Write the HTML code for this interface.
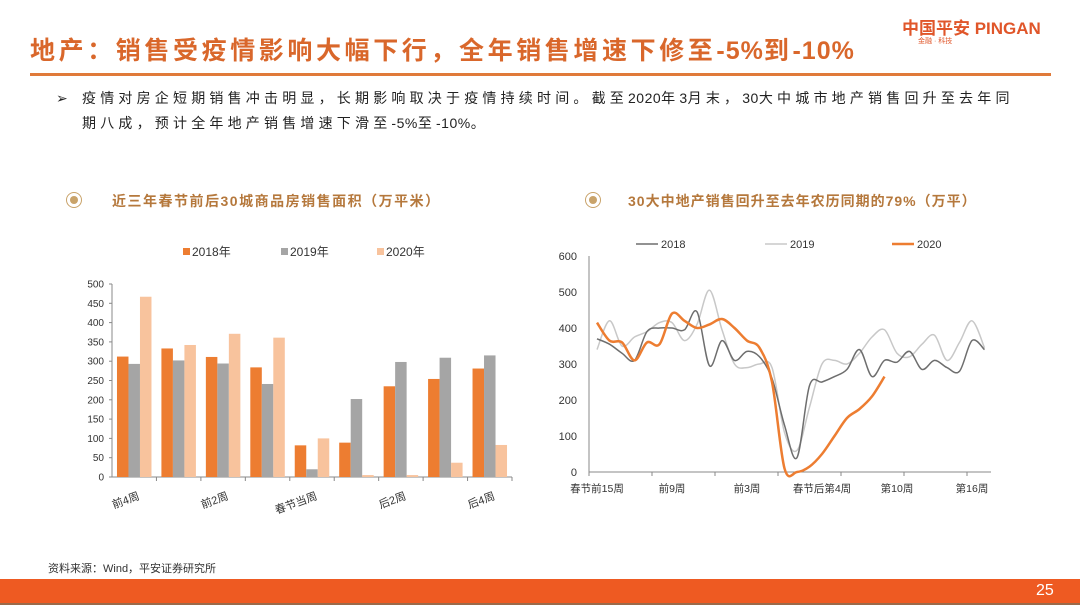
<!DOCTYPE html>
<html><head><meta charset="utf-8">
<style>
body{margin:0;width:1080px;height:608px;background:#fff;overflow:hidden;position:relative;font-family:"Liberation Sans","Noto Sans CJK SC",sans-serif;}
.abs{position:absolute;white-space:nowrap;}
.d{letter-spacing:0.5px}
</style></head>
<body>
<div class="abs" style="left:902px;top:14px;font-size:17px;font-weight:bold;color:#e0562a;letter-spacing:0px">中国平安 PINGAN</div>
<div class="abs" style="left:918px;top:36px;font-size:7px;color:#e0562a">金融 · 科技</div>
<div class="abs" style="left:30px;top:31px;font-size:25px;font-weight:bold;color:#d9672b;letter-spacing:3.6px;font-family:'Liberation Sans','Noto Sans CJK SC',sans-serif">地产：销售受疫情影响大幅下行，全年销售增速下修至<span style="letter-spacing:1px">-5%</span>到<span style="letter-spacing:1px">-10%</span></div>
<div class="abs" style="left:30px;top:73px;width:1021px;height:3px;background:#e07a3a"></div>
<div class="abs" style="left:56px;top:86px;font-size:14px;color:#222;line-height:25px;white-space:normal;width:1010px;letter-spacing:4.2px">
<span style="position:absolute;left:0;top:0">➢</span><div style="padding-left:26px;white-space:nowrap">疫情对房企短期销售冲击明显，长期影响取决于疫情持续时间。截至<span class="d">2020</span>年<span class="d">3</span>月末，<span class="d">30</span>大中城市地产销售回升至去年同<br>期八成，预计全年地产销售增速下滑至<span class="d">-5%</span>至<span class="d">-10%</span>。</div></div>

<div class="abs" style="left:66px;top:192px;width:14px;height:14px;border:1.5px solid #c9a36a;border-radius:50%"><div style="margin:3px;width:8px;height:8px;border-radius:50%;background:#c9a36a"></div></div>
<div class="abs" style="left:112px;top:191px;font-size:14px;font-weight:bold;color:#b5783c;letter-spacing:1.5px">近三年春节前后30城商品房销售面积（万平米）</div>
<div class="abs" style="left:585px;top:192px;width:14px;height:14px;border:1.5px solid #c9a36a;border-radius:50%"><div style="margin:3px;width:8px;height:8px;border-radius:50%;background:#c9a36a"></div></div>
<div class="abs" style="left:628px;top:191px;font-size:14px;font-weight:bold;color:#b5783c;letter-spacing:1px">30大中地产销售回升至去年农历同期的79%（万平）</div>

<svg class="abs" style="left:0;top:0" width="1080" height="608" id="svg"></svg>

<div class="abs" style="left:48px;top:560px;font-size:11px;color:#333">资料来源：Wind，平安证券研究所</div>
<div class="abs" style="left:0;top:579px;width:1080px;height:24px;background:#ee5a22;border-bottom:2px solid #9a6a4a"></div>
<div class="abs" style="left:1036px;top:582px;font-size:16px;color:#fff">25</div>

<script>
const barCats=["前4周","前3周","前2周","前1周","春节当周","后1周","后2周","后3周","后4周"];
const bars2018=[312,333,311,284,82,89,235,254,281];
const bars2019=[293,302,294,241,20,202,298,309,315];
const bars2020=[467,342,371,361,100,5,5,37,83];
const barTicks=[0,50,100,150,200,250,300,350,400,450,500];

const lineTicks=[0,100,200,300,400,500,600];
const xLabels=["春节前15周","前9周","前3周","春节后第4周","第10周","第16周"];
const xLabelIdx=[0,6,12,18,24,30];
const line2018=[370,355,330,310,390,400,400,395,445,295,365,310,335,320,260,130,40,240,250,265,285,340,265,310,305,335,285,310,290,280,365,340];
const line2019=[340,420,350,375,390,415,415,365,410,505,395,300,290,300,290,110,60,180,300,310,300,330,375,395,330,320,355,380,310,360,420,345];
const line2020=[415,365,360,310,360,355,440,420,400,410,425,400,365,345,250,10,0,15,50,100,150,175,210,265];

const svg=document.getElementById('svg');
const NS="http://www.w3.org/2000/svg";
function mk(t,a,p){const e=document.createElementNS(NS,t);for(const k in a)e.setAttribute(k,a[k]);(p||svg).appendChild(e);return e;}

// ---- bar chart
const bx0=112,bx1=512,by0=477,by1=284;
const byS=v=>by0-(v/500)*(by0-by1);
const cw=(bx1-bx0)/barCats.length;
let ax=mk('line',{x1:bx0,y1:by1,x2:bx0,y2:by0,stroke:'#888','stroke-width':1});


ax=mk('line',{x1:bx0,y1:by0,x2:bx1,y2:by0,stroke:'#888','stroke-width':1});


barTicks.forEach(v=>{
  const t=mk('text',{x:bx0-8,y:byS(v)+3.5,'font-size':10,'text-anchor':'end',fill:'#333'});t.textContent=v;
  
  
  mk('line',{x1:bx0-3,y1:byS(v),x2:bx0,y2:byS(v),stroke:'#888'});
});
const series=[[bars2018,'#ed7d31','2018'],[bars2019,'#a5a5a5','2019'],[bars2020,'#f8c39d','2020']];
const bw=11.5;
barCats.forEach((c,i)=>{
  const cx=bx0+cw*(i+0.5);
  mk('line',{x1:bx0+cw*(i+1),y1:by0,x2:bx0+cw*(i+1),y2:by0+4,stroke:'#888'});
  series.forEach((s,j)=>{
    const v=s[0][i];
    const r=mk('rect',{x:cx+(j-1.5)*bw,y:byS(v),width:bw,height:by0-byS(v),fill:s[1]});
    
    
  });
  if(i%2===0){
    const t=mk('text',{x:cx+6,y:by0+22,'font-size':11,'text-anchor':'end',fill:'#333',transform:`rotate(-20 ${cx+6} ${by0+22})`});
    t.textContent=c;
    
    
  }
});
series.forEach((s,j)=>{
  const lx=[183,281,377][j];
  const r=mk('rect',{x:lx,y:248,width:7,height:7,fill:s[1]});
  
  
  const t=mk('text',{x:lx+9,y:256,'font-size':12,fill:'#333'});t.textContent=s[2]+'年';
  
  
});

// ---- line chart
const lx0=589,lx1=991,ly0=472,ly1=256;
const lyS=v=>ly0-(v/600)*(ly0-ly1);
const lxS=i=>597+i*12.5;
ax=mk('line',{x1:lx0,y1:ly1,x2:lx0,y2:ly0,stroke:'#888'});


ax=mk('line',{x1:lx0,y1:ly0,x2:lx1,y2:ly0,stroke:'#888'});


lineTicks.forEach(v=>{
  const t=mk('text',{x:lx0-12,y:lyS(v)+4,'font-size':11,'text-anchor':'end',fill:'#333'});t.textContent=v;
  
  
});
for(let k=0;k<7;k++){const x=lx0+k*63;mk('line',{x1:x,y1:ly0,x2:x,y2:ly0+4,stroke:'#888'});}
xLabels.forEach((l,k)=>{
  const t=mk('text',{x:lxS(xLabelIdx[k]),y:ly0+20,'font-size':10.5,'text-anchor':'middle',fill:'#333'});t.textContent=l;
  
  
});
function smooth(arr){
  const p=arr.map((v,i)=>[lxS(i),lyS(v)]);
  let d=`M${p[0][0]},${p[0][1]}`;
  for(let i=0;i<p.length-1;i++){
    const p0=p[i-1]||p[i],p1=p[i],p2=p[i+1],p3=p[i+2]||p2;
    const c1=[p1[0]+(p2[0]-p0[0])/6,p1[1]+(p2[1]-p0[1])/6];
    const c2=[p2[0]-(p3[0]-p1[0])/6,p2[1]-(p3[1]-p1[1])/6];
    d+=` C${c1[0]},${c1[1]} ${c2[0]},${c2[1]} ${p2[0]},${p2[1]}`;
  }
  return d;
}
const lines=[[line2019,'#c8c8c8',1.5,'2019'],[line2018,'#6e6e6e',1.5,'2018'],[line2020,'#ed7d31',2.5,'2020']];
lines.forEach(s=>{
  const p=mk('path',{d:smooth(s[0]),fill:'none',stroke:s[1],'stroke-width':s[2]});
  
  
});
[[line2018,'#6e6e6e',1.5,'2018',636],[line2019,'#c8c8c8',1.5,'2019',765],[line2020,'#ed7d31',2.5,'2020',892]].forEach(s=>{
  const l=mk('line',{x1:s[4],y1:244,x2:s[4]+22,y2:244,stroke:s[1],'stroke-width':s[2]});
  
  
  const t=mk('text',{x:s[4]+25,y:248,'font-size':11,fill:'#333'});t.textContent=s[3];
  
  
});
</script>
</body></html>
